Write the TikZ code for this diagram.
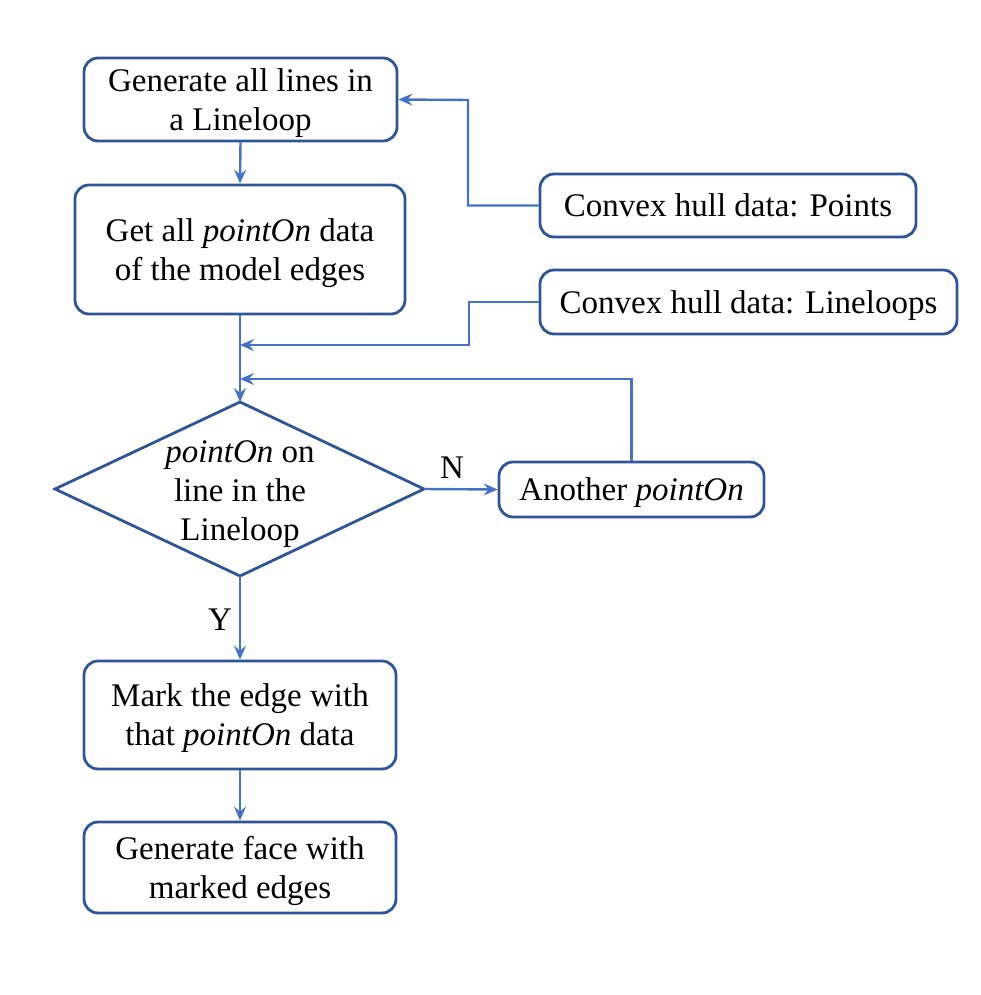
\documentclass[tikz,border=0pt]{standalone}
\usepackage{fontspec}
\setmainfont{Liberation Serif}
\usetikzlibrary{arrows.meta,shapes.geometric}
\definecolor{bord}{HTML}{2F5597}
\definecolor{conn}{HTML}{4472C4}
\begin{document}
\begin{tikzpicture}[x=1pt,y=-1pt,
  box/.style={draw=bord,line width=2.8pt,rounded corners=14pt,align=center,inner sep=0pt,text depth=0pt,
    font=\fontsize{33}{39}\selectfont},
  conline/.style={draw=conn,line width=2.4pt,-{Stealth[length=14pt,width=12pt,inset=5pt]}},
  lbl/.style={font=\fontsize{33}{39}\selectfont,inner sep=0pt}]
\useasboundingbox (0,0) rectangle (981,995);
\node[box,minimum width=313pt,minimum height=83pt] (b1) at (240.5,99.5) {Generate all lines in\\a Lineloop};
\node[box,minimum width=330pt,minimum height=129pt] (b2) at (240,249.5) {Get all \textit{pointOn} data\\of the model edges};
\node[box,minimum width=376pt,minimum height=63pt] (b3) at (728,205.5) {Convex hull data: Points};
\node[box,minimum width=417pt,minimum height=64pt] (b4) at (748.5,302) {Convex hull data: Lineloops};
\draw[draw=bord,line width=2.8pt] (55,489) coordinate (dl) -- (240,402) coordinate (dt) -- (424,489) coordinate (dr) -- (240,576) coordinate (db) -- cycle;
\node[lbl,align=center,text depth=0pt] (dtext) at (240,491) {\textit{pointOn} on\\line in the\\Lineloop};
\node[box,minimum width=265pt,minimum height=55pt] (b5) at (631.5,489.5) {Another \textit{pointOn}};
\node[box,minimum width=312pt,minimum height=108pt] (b6) at (240,715) {Mark the edge with\\that \textit{pointOn} data};
\node[box,minimum width=312pt,minimum height=91pt] (b7) at (240,867.5) {Generate face with\\marked edges};
\coordinate (j1) at (240,345);
\coordinate (j2) at (240,379);
\draw[conline] (b1.south) -- (b2.north);
\draw[conline] (b3.west) -- (468,205.5) -- (468,100) -- (b1.east);
\draw[conline] (b2.south) -- (dt);
\draw[conline] (b4.west) -- (469,302) -- (469,345) -- (j1);
\draw[conline] (b5.north) -- (631.5,379) -- (j2);
\draw[conline] (dr) -- (b5.west);
\draw[conline] (db) -- (b6.north);
\draw[conline] (b6.south) -- (b7.north);
\node[lbl] (n) at (452,468) {N};
\node[lbl] (y) at (220,620) {Y};
\end{tikzpicture}
\end{document}
